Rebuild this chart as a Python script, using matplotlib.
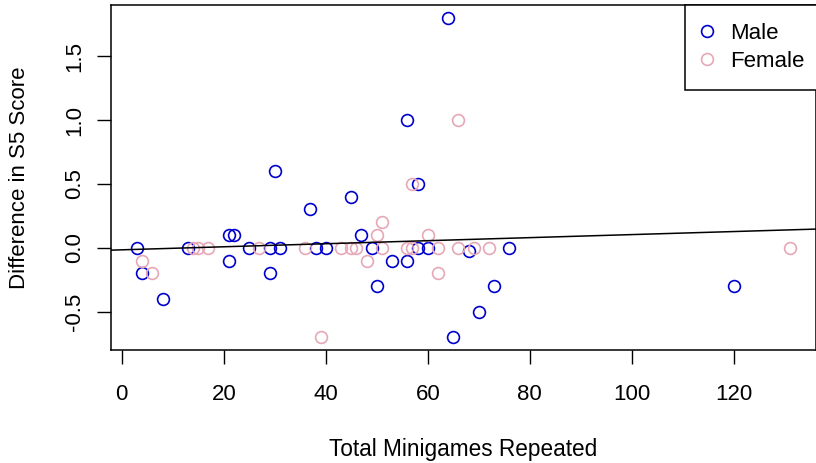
import matplotlib
matplotlib.use("Agg")
import matplotlib.pyplot as plt
import numpy as np

plt.rcParams['font.family'] = ['Liberation Sans', 'DejaVu Sans']

# 男性
male_x = [3, 4, 8, 13, 21, 21, 22, 25, 29, 29, 30, 31, 37, 38, 40, 45, 47, 49, 50,
          53, 56, 56, 58, 58, 60, 64, 65, 68, 70, 73, 76, 120]
male_y = [0.0, -0.2, -0.4, 0.0, -0.1, 0.1, 0.1, 0.0, 0.0, -0.2, 0.6, 0.0, 0.3, 0.0,
          0.0, 0.4, 0.1, 0.0, -0.3, -0.1, -0.1, 1.0, 0.0, 0.5, 0.0, 1.8, -0.7, -0.025,
          -0.5, -0.3, 0.0, -0.3]

# 女性
female_x = [4, 6, 14, 15, 17, 27, 36, 39, 43, 45, 46, 48, 50, 51, 51, 56, 57, 57,
            60, 62, 62, 66, 66, 69, 72, 131]
female_y = [-0.1, -0.2, 0.0, 0.0, 0.0, 0.0, 0.0, -0.7, 0.0, 0.0, 0.0, -0.1, 0.1, 0.2,
            0.0, 0.0, 0.0, 0.5, 0.1, 0.0, -0.2, 1.0, 0.0, 0.0, 0.0, 0.0]

male_col = '#0000CD'
female_col = '#E6A8B6'

fig = plt.figure(figsize=(8.16, 4.63), dpi=100)
ax = fig.add_axes([0.136, 0.244, 0.864, 0.745])

ax.plot(male_x, male_y, 'o', mfc='none', mec=male_col, ms=8.5, mew=1.2, label='Male')
ax.plot(female_x, female_y, 'o', mfc='none', mec=female_col, ms=8.5, mew=1.2, label='Female')

# 迴歸線（全部資料）
all_x = np.array(male_x + female_x)
all_y = np.array(male_y + female_y)
slope, intercept = np.polyfit(all_x, all_y, 1)
ax.axline((0, intercept), slope=slope, color='black', lw=1.1)

# R 風格的座標範圍（各邊延伸 4%）
xr = all_x.max() - all_x.min()
yr = all_y.max() - all_y.min()
ax.set_xlim(all_x.min() - 0.04 * xr, all_x.max() + 0.04 * xr)
ax.set_ylim(all_y.min() - 0.04 * yr, all_y.max() + 0.04 * yr)

ax.set_xticks([0, 20, 40, 60, 80, 100, 120])
ax.set_yticks([-0.5, 0.0, 0.5, 1.0, 1.5])
ax.set_yticklabels(['-0.5', '0.0', '0.5', '1.0', '1.5'], rotation=90, va='center')
ax.tick_params(labelsize=16, length=10, width=1)
ax.tick_params(axis='x', pad=14.8)
ax.tick_params(axis='y', pad=8.7)
for s in ax.spines.values():
    s.set_linewidth(1.1)

ax.set_xlabel('Total Minigames Repeated', fontsize=16.3, labelpad=23.5)
ax.set_ylabel('Difference in S5 Score', fontsize=16, labelpad=24.6)

leg = ax.legend(loc='upper right', bbox_to_anchor=(1.009, 1.0), fontsize=16,
                frameon=True, fancybox=False, edgecolor='black', framealpha=1,
                borderaxespad=0, handlelength=0.4, handletextpad=0.85,
                borderpad=0.8, labelspacing=0.32)
leg.get_frame().set_linewidth(1.1)

fig.savefig('out.png', dpi=100)
